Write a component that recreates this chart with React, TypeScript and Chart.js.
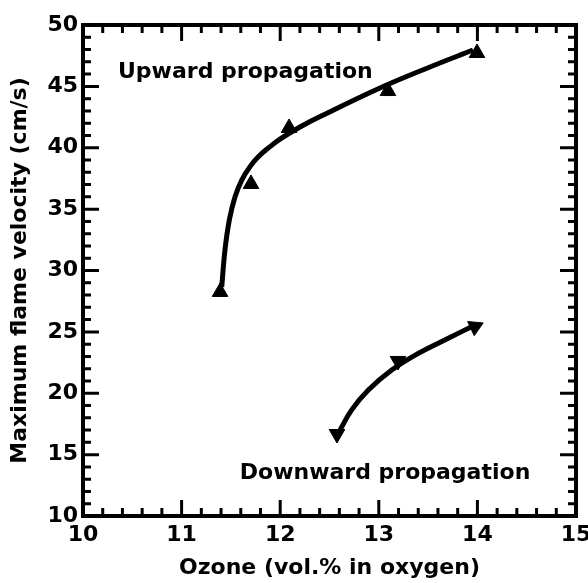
import { useEffect, useRef } from "react";
import { Chart, registerables } from "chart.js";

Chart.register(...registerables);

// ---- data ----
const xTicks = [10, 11, 12, 13, 14, 15];
const yTicks = [10, 15, 20, 25, 30, 35, 40, 45, 50];
const xMinorPerMajor = 5; // 0.2 step
const yMinorPerMajor = 5; // 1 step

// fitted curves
const upCurveX = [11.407, 11.44, 11.484, 11.542, 11.61, 11.694, 11.778, 11.897, 11.998, 12.201, 12.4, 13.012, 13.519, 13.955];
const upCurveY = [28.66, 31.67, 34.11, 36.01, 37.37, 38.46, 39.27, 40.09, 40.71, 41.69, 42.52, 44.87, 46.58, 47.96];
const downCurveX = [12.589, 12.725, 12.894, 13.131, 13.401, 13.705, 13.976];
const downCurveY = [16.74, 18.64, 20.26, 21.89, 23.25, 24.48, 25.56];

// measured points (triangle markers)
const upX = [11.39, 11.704, 12.09, 13.093, 13.996];
const upY = [28.25, 37.05, 41.61, 44.62, 47.72];
const downX = [12.576, 13.195, 13.976];
const downY = [16.68, 22.63, 25.42];
const downRotation = [180, 180, 65];

const upLabel = { text: "Upward propagation", x: 10.355, y: 46.15 };
const downLabel = { text: "Downward propagation", x: 11.59, y: 13.5 };

const xTitle = "Ozone (vol.% in oxygen)";
const yTitle = "Maximum flame velocity (cm/s)";

const FONT_FAMILY = "'DejaVu Sans', 'Liberation Sans', sans-serif";

const framePlugin = {
  id: "frame",
  beforeDatasetsDraw(chart: any) {
    const { ctx, chartArea, scales } = chart;
    const { left, right, top, bottom } = chartArea;
    const xs = scales.x;
    const ys = scales.y;
    ctx.save();
    ctx.strokeStyle = "#000";
    ctx.lineCap = "butt";
    ctx.lineWidth = 3;
    for (let i = 0; i < xTicks.length; i++) {
      const v = xTicks[i];
      const px = xs.getPixelForValue(v);
      if (i > 0 && i < xTicks.length - 1) {
        ctx.beginPath();
        ctx.moveTo(px, bottom);
        ctx.lineTo(px, bottom - 16);
        ctx.moveTo(px, top);
        ctx.lineTo(px, top + 16);
        ctx.stroke();
      }
      if (i < xTicks.length - 1) {
        const step = (xTicks[i + 1] - v) / xMinorPerMajor;
        for (let k = 1; k < xMinorPerMajor; k++) {
          const mp = xs.getPixelForValue(v + k * step);
          ctx.beginPath();
          ctx.moveTo(mp, bottom);
          ctx.lineTo(mp, bottom - 8);
          ctx.moveTo(mp, top);
          ctx.lineTo(mp, top + 8);
          ctx.stroke();
        }
      }
    }
    for (let i = 0; i < yTicks.length; i++) {
      const v = yTicks[i];
      const py = ys.getPixelForValue(v);
      if (i > 0 && i < yTicks.length - 1) {
        ctx.beginPath();
        ctx.moveTo(left, py);
        ctx.lineTo(left + 16, py);
        ctx.moveTo(right, py);
        ctx.lineTo(right - 16, py);
        ctx.stroke();
      }
      if (i < yTicks.length - 1) {
        const step = (yTicks[i + 1] - v) / yMinorPerMajor;
        for (let k = 1; k < yMinorPerMajor; k++) {
          const mp = ys.getPixelForValue(v + k * step);
          ctx.beginPath();
          ctx.moveTo(left, mp);
          ctx.lineTo(left + 8, mp);
          ctx.moveTo(right, mp);
          ctx.lineTo(right - 8, mp);
          ctx.stroke();
        }
      }
    }
    ctx.lineWidth = 4;
    ctx.strokeRect(left, top, right - left, bottom - top);
    ctx.restore();
  },
  afterDatasetsDraw(chart: any) {
    const { ctx, scales } = chart;
    ctx.save();
    ctx.fillStyle = "#000";
    ctx.font = `bold 22px ${FONT_FAMILY}`;
    ctx.textAlign = "left";
    ctx.textBaseline = "middle";
    for (const l of [upLabel, downLabel]) {
      ctx.fillText(l.text, scales.x.getPixelForValue(l.x), scales.y.getPixelForValue(l.y));
    }
    ctx.restore();
  },
};

export default function App() {
  const ref = useRef<HTMLCanvasElement | null>(null);
  useEffect(() => {
    if (!ref.current) return;
    const font = { family: FONT_FAMILY, size: 22, weight: "bold" as const };
    const curve = {
      borderColor: "#000",
      backgroundColor: "#000",
      borderWidth: 5,
      tension: 0.4,
      pointRadius: 0,
      fill: false,
    };
    const marks = {
      showLine: false,
      borderColor: "#000",
      backgroundColor: "#000",
      pointStyle: "triangle" as const,
      pointRadius: 9,
      pointBorderWidth: 1,
      pointBackgroundColor: "#000",
      pointBorderColor: "#000",
      fill: false,
    };
    const chart = new Chart(ref.current, {
      type: "line",
      data: {
        datasets: [
          { label: "Upward curve", data: upCurveX.map((x, i) => ({ x, y: upCurveY[i] })), ...curve },
          { label: "Downward curve", data: downCurveX.map((x, i) => ({ x, y: downCurveY[i] })), ...curve },
          { label: "Upward propagation", data: upX.map((x, i) => ({ x, y: upY[i] })), ...marks },
          {
            label: "Downward propagation",
            data: downX.map((x, i) => ({ x, y: downY[i] })),
            ...marks,
            pointRotation: downRotation,
          },
        ],
      },
      options: {
        animation: false,
        responsive: false,
        maintainAspectRatio: false,
        layout: { padding: { top: 25, right: 12, left: 0, bottom: 0 } },
        plugins: { legend: { display: false }, tooltip: { enabled: false } },
        scales: {
          x: {
            type: "linear",
            min: 10,
            max: 15,
            afterBuildTicks: (s: any) => {
              s.ticks = xTicks.map((v) => ({ value: v }));
            },
            grid: { display: false, drawTicks: false },
            border: { display: false },
            ticks: { padding: 6, font, color: "#000", maxRotation: 0, autoSkip: false },
            title: { display: true, text: xTitle, font, color: "#000", padding: { top: 0, bottom: 2 } },
            afterFit: (s: any) => {
              s.height = 67;
              s.paddingLeft = 0;
              s.paddingRight = 0;
            },
          },
          y: {
            type: "linear",
            min: 10,
            max: 50,
            afterBuildTicks: (s: any) => {
              s.ticks = yTicks.map((v) => ({ value: v }));
            },
            grid: { display: false, drawTicks: false },
            border: { display: false },
            ticks: { padding: 5, font, color: "#000", autoSkip: false },
            title: { display: true, text: yTitle, font, color: "#000", padding: { top: 7, bottom: 0 } },
            afterFit: (s: any) => {
              s.width = 83;
              s.paddingTop = 0;
              s.paddingBottom = 0;
            },
          },
        },
      },
      plugins: [framePlugin],
    });
    return () => chart.destroy();
  }, []);
  return (
    <div style={{ position: "fixed", left: 0, top: 0, width: 588, height: 583, background: "#fff" }}>
      <canvas ref={ref} width={588} height={583} style={{ display: "block" }} />
    </div>
  );
}
